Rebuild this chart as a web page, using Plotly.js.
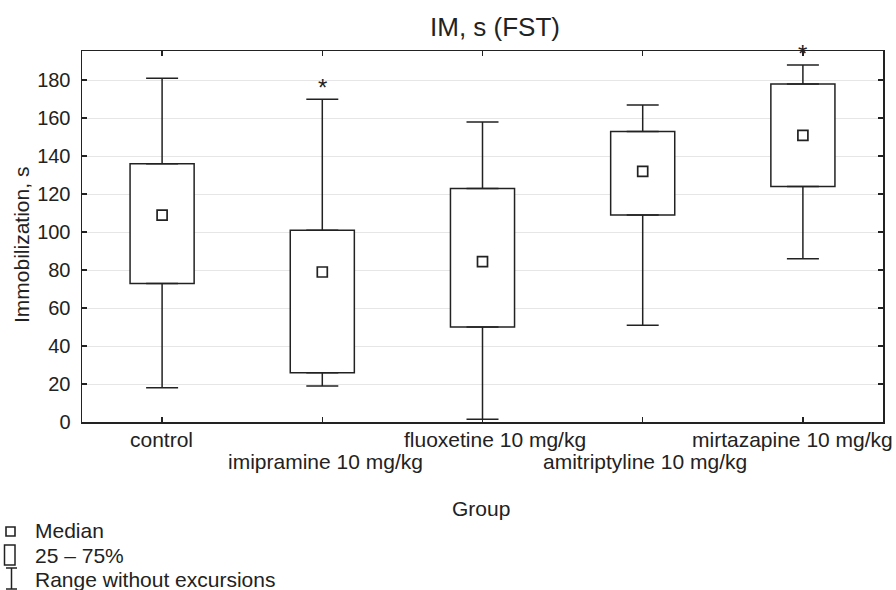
<!DOCTYPE html>
<html>
<head>
<meta charset="utf-8">
<script src="https://cdn.plot.ly/plotly-3.0.1.min.js"></script>
<style>
  html, body { margin: 0; padding: 0; background: #fff; }
  #chart { width: 896px; height: 590px; }
</style>
</head>
<body>
<div id="chart"></div>
<script>
// ---- data ----
const categories = ['control', 'imipramine 10 mg/kg', 'fluoxetine 10 mg/kg', 'amitriptyline 10 mg/kg', 'mirtazapine 10 mg/kg'];
const medianVals = [109, 79, 84.5, 132, 151];
const q1Vals = [73, 26, 50, 109, 124];
const q3Vals = [136, 101, 123, 153, 178];
const minVals = [18, 19, 1.5, 51, 86];
const maxVals = [181, 170, 158, 167, 188];
const significant = [false, true, false, false, true];
const yTickVals = [0, 20, 40, 60, 80, 100, 120, 140, 160, 180];
const chartTitle = 'IM, s (FST)';
const xTitle = 'Group';
const yTitle = 'Immobilization, s';
const legendLabels = ['Median', '25 \u2013 75%', 'Range without excursions'];

// ---- layout helpers ----
const W = 896, H = 590;
const M = { l: 82, r: 13, t: 51, b: 168 };
const PW = W - M.l - M.r, PH = H - M.t - M.b;
const xp = px => (px - M.l) / PW;
const yp = py => (H - M.b - py) / PH;
const FONT = 'Liberation Sans, Arial, Helvetica, sans-serif';
const INK = '#222222';
const LW = 1.5;

const idx = categories.map((_, i) => i);

const traces = [
  {
    type: 'bar', x: idx, base: q1Vals,
    y: q3Vals.map((v, i) => v - q1Vals[i]),
    width: 0.4,
    marker: { color: '#ffffff', line: { color: INK, width: LW } },
    hoverinfo: 'skip', showlegend: false
  },
  {
    type: 'scatter', mode: 'markers', x: idx, y: q3Vals,
    marker: { size: 1, color: 'rgba(0,0,0,0)' },
    error_y: { type: 'data', symmetric: false,
      array: maxVals.map((v, i) => v - q3Vals[i]),
      arrayminus: q3Vals.map(() => 0),
      width: 16, thickness: LW, color: INK },
    hoverinfo: 'skip', showlegend: false
  },
  {
    type: 'scatter', mode: 'markers', x: idx, y: q1Vals,
    marker: { size: 1, color: 'rgba(0,0,0,0)' },
    error_y: { type: 'data', symmetric: false,
      array: q1Vals.map(() => 0),
      arrayminus: minVals.map((v, i) => q1Vals[i] - v),
      width: 16, thickness: LW, color: INK },
    hoverinfo: 'skip', showlegend: false
  },
  {
    type: 'scatter', mode: 'markers', x: idx, y: medianVals,
    marker: { symbol: 'square', size: 10, color: '#ffffff', line: { color: INK, width: 1.7 } },
    hoverinfo: 'skip', showlegend: false, cliponaxis: false
  }
];

const annotations = [];
// title
annotations.push({ xref: 'paper', yref: 'paper', x: xp(495), y: yp(27), text: chartTitle,
  showarrow: false, xanchor: 'center', yanchor: 'middle', font: { family: FONT, size: 26, color: INK } });
// x title
annotations.push({ xref: 'paper', yref: 'paper', x: xp(481), y: yp(508), text: xTitle,
  showarrow: false, xanchor: 'center', yanchor: 'middle', font: { family: FONT, size: 21, color: INK } });
// y title
annotations.push({ xref: 'paper', yref: 'paper', x: xp(21), y: yp(245), text: yTitle, textangle: -90,
  showarrow: false, xanchor: 'center', yanchor: 'middle', font: { family: FONT, size: 21, color: INK } });
// category labels in two staggered rows
const labelShift = [-1, 3, 12, 2, -10];
categories.forEach((c, i) => {
  annotations.push({ xref: 'x', yref: 'paper', x: i, y: yp(i % 2 === 0 ? 439 : 461), xshift: labelShift[i],
    text: c, showarrow: false, xanchor: 'center', yanchor: 'middle',
    font: { family: FONT, size: 21, color: INK } });
});
// significance stars
significant.forEach((s, i) => {
  if (!s) return;
  annotations.push({ xref: 'x', yref: 'y', x: i, y: maxVals[i], yshift: 12, text: '*',
    showarrow: false, xanchor: 'center', yanchor: 'middle',
    font: { family: FONT, size: 24, color: INK } });
});
// legend labels
[[537.5, 0], [562.5, 1], [586.5, 2]].forEach(([base, k]) => {
  annotations.push({ xref: 'paper', yref: 'paper', x: xp(33), y: yp(base - 7), text: legendLabels[k],
    showarrow: false, xanchor: 'left', yanchor: 'middle',
    font: { family: FONT, size: 21, color: INK } });
});

const ln = { color: INK, width: LW };
const shapes = [
  // median symbol
  { type: 'rect', xref: 'paper', yref: 'paper', x0: xp(6), x1: xp(15), y0: yp(536), y1: yp(527), line: { color: INK, width: 1.6 }, fillcolor: '#fff' },
  // box symbol
  { type: 'rect', xref: 'paper', yref: 'paper', x0: xp(4.5), x1: xp(15), y0: yp(565), y1: yp(545), line: ln, fillcolor: '#fff' },
  // whisker symbol
  { type: 'line', xref: 'paper', yref: 'paper', x0: xp(6), x1: xp(17), y0: yp(568), y1: yp(568), line: ln },
  { type: 'line', xref: 'paper', yref: 'paper', x0: xp(11.5), x1: xp(11.5), y0: yp(568), y1: yp(589), line: ln },
  { type: 'line', xref: 'paper', yref: 'paper', x0: xp(6), x1: xp(17), y0: yp(589), y1: yp(589), line: ln }
];

const layout = {
  width: W, height: H,
  margin: M,
  paper_bgcolor: '#ffffff', plot_bgcolor: '#ffffff',
  showlegend: false,
  barmode: 'overlay',
  font: { family: FONT, color: INK },
  xaxis: {
    range: [-0.5, categories.length - 0.5],
    tickvals: idx, ticktext: idx.map(() => ''),
    ticks: 'inside', ticklen: 5, tickwidth: LW, tickcolor: INK,
    showline: true, linecolor: INK, linewidth: LW, mirror: 'ticks',
    showgrid: false, zeroline: false, fixedrange: true
  },
  yaxis: {
    range: [0, 195.4],
    tickvals: yTickVals,
    ticks: 'inside', ticklen: 5, tickwidth: LW, tickcolor: INK,
    showline: true, linecolor: INK, linewidth: LW, mirror: 'ticks',
    showgrid: true, gridcolor: '#e6e6e6', gridwidth: 1,
    zeroline: false, fixedrange: true,
    tickfont: { family: FONT, size: 20, color: INK },
    ticklabelstandoff: 6
  },
  annotations: annotations,
  shapes: shapes
};

Plotly.newPlot('chart', traces, layout, { staticPlot: true, displayModeBar: false });
</script>
</body>
</html>
